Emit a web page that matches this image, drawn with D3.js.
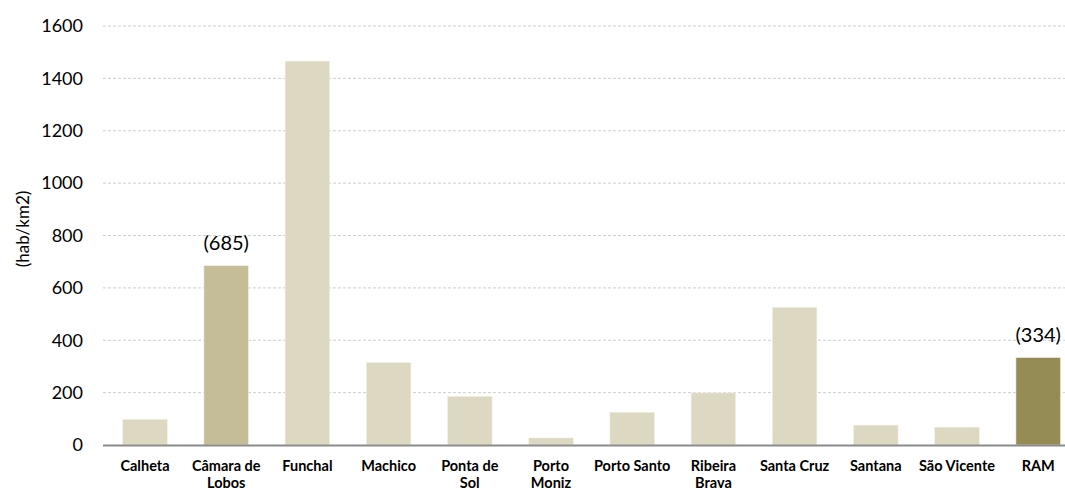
<!DOCTYPE html>
<html>
<head>
<meta charset="utf-8">
<script src="https://cdn.jsdelivr.net/npm/d3@7/dist/d3.min.js"></script>
<style>
  html, body { margin: 0; padding: 0; background: #fff; }
  svg { display: block; }
  text { font-family: Lato, "Open Sans", sans-serif; fill: #000; }
</style>
</head>
<body>
<svg id="chart" width="1065" height="491"></svg>
<script>
// Population density by municipality (hab/km2)
const municipios = ["Calheta", "Câmara de Lobos", "Funchal", "Machico", "Ponta de Sol",
  "Porto Moniz", "Porto Santo", "Ribeira Brava", "Santa Cruz", "Santana", "São Vicente", "RAM"];
const densidade = [98, 685, 1466, 315, 186, 27, 125, 199, 526, 76, 68, 334];
// Label lines shown under each bar
const rotulos = [["Calheta"], ["Câmara de", "Lobos"], ["Funchal"], ["Machico"], ["Ponta de", "Sol"],
  ["Porto", "Moniz"], ["Porto Santo"], ["Ribeira", "Brava"], ["Santa Cruz"], ["Santana"], ["São Vicente"], ["RAM"]];
const destaques = { "Câmara de Lobos": "#c5bd98", "RAM": "#958c55" };
const rotulosValor = ["Câmara de Lobos", "RAM"];
const yTicks = [0, 200, 400, 600, 800, 1000, 1200, 1400, 1600];

const svg = d3.select("#chart");

const x = d3.scaleBand()
  .domain(municipios)
  .range([104.4, 1078.8])
  .paddingInner(0.451)
  .paddingOuter(0.2255);

const y = d3.scaleLinear().domain([0, 1600]).range([445, 26]);

// Gridlines
svg.append("g").selectAll("line")
  .data(yTicks.filter(d => d > 0))
  .join("line")
  .attr("x1", 103).attr("x2", 1065)
  .attr("y1", d => y(d)).attr("y2", d => y(d))
  .attr("stroke", "#cfcfcf")
  .attr("stroke-width", 1)
  .attr("stroke-dasharray", "3,2");

// Y tick labels
svg.append("g").selectAll("text")
  .data(yTicks)
  .join("text")
  .attr("x", 83)
  .attr("y", d => y(d))
  .attr("dy", "0.35em")
  .attr("text-anchor", "end")
  .style("font-size", "18px")
  .text(d => d);

// Y axis title
svg.append("text")
  .attr("transform", "translate(23,229) rotate(-90)")
  .attr("text-anchor", "middle")
  .attr("dy", "0.35em")
  .style("font-size", "17px")
  .text("(hab/km2)");

// Bars
svg.append("g").selectAll("rect")
  .data(municipios)
  .join("rect")
  .attr("x", d => x(d))
  .attr("width", x.bandwidth())
  .attr("y", (d, i) => y(densidade[i]))
  .attr("height", (d, i) => y(0) - y(densidade[i]))
  .attr("fill", d => destaques[d] || "#ddd8c1")
  .attr("stroke", "#f3f0e6")
  .attr("stroke-width", 0.6);

// Baseline
svg.append("line")
  .attr("x1", 103).attr("x2", 1065)
  .attr("y1", y(0) + 0.5).attr("y2", y(0) + 0.5)
  .attr("stroke", "#8c8c8c")
  .attr("stroke-width", 2);

// Value labels above highlighted bars
svg.append("g").selectAll("text")
  .data(rotulosValor)
  .join("text")
  .attr("x", d => x(d) + x.bandwidth() / 2)
  .attr("y", d => y(densidade[municipios.indexOf(d)]) - 23)
  .attr("dy", "0.35em")
  .attr("text-anchor", "middle")
  .style("font-size", "20px")
  .text(d => "(" + densidade[municipios.indexOf(d)] + ")");

// Category labels
const cat = svg.append("g").selectAll("text")
  .data(municipios)
  .join("text")
  .attr("text-anchor", "middle")
  .style("font-size", "14.5px")
  .style("font-weight", "bold");
cat.each(function(d, i) {
  const t = d3.select(this);
  rotulos[i].forEach((line, k) => {
    t.append("tspan")
      .attr("x", x(d) + x.bandwidth() / 2)
      .attr("y", 466 + k * 16.5)
      .attr("dy", "0.35em")
      .text(line);
  });
});
</script>
</body>
</html>
